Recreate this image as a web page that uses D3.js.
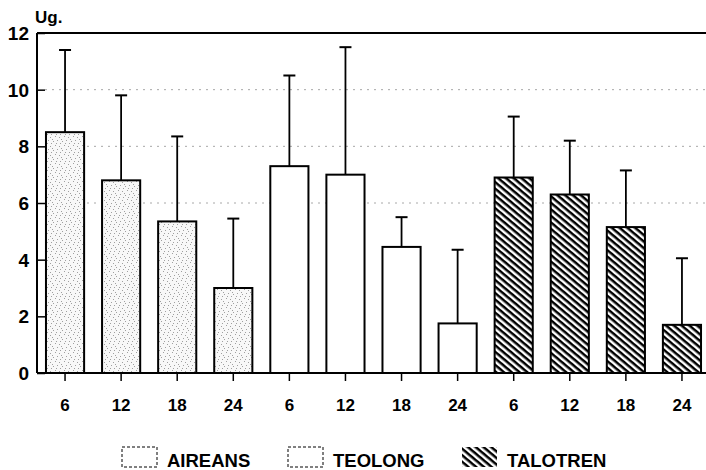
<!DOCTYPE html>
<html>
<head>
<meta charset="utf-8">
<script src="https://cdn.jsdelivr.net/npm/d3@7"></script>
<style>
  html, body { margin: 0; padding: 0; background: #fff; }
  svg { display: block; }
  text { font-family: "Liberation Sans", Arial, Helvetica, sans-serif; font-weight: bold; fill: #000; }
</style>
</head>
<body>
<script>
// ---- data ----
const groups = ["AIREANS", "TEOLONG", "TALOTREN"];
const hours = ["6", "12", "18", "24"];
const aireansMean = [8.5, 6.8, 5.35, 3.0];
const aireansSD   = [2.9, 3.0, 3.0, 2.45];
const teolongMean = [7.3, 7.0, 4.45, 1.75];
const teolongSD   = [3.2, 4.5, 1.05, 2.6];
const talotrenMean = [6.9, 6.3, 5.15, 1.7];
const talotrenSD   = [2.15, 1.9, 2.0, 2.35];
const yTicks = [0, 2, 4, 6, 8, 10, 12];
const gridValues = [6, 8, 10];
const yUnit = "Ug.";

const means = [aireansMean, teolongMean, talotrenMean];
const sds = [aireansSD, teolongSD, talotrenSD];
const rows = [];
groups.forEach((g, gi) => hours.forEach((h, hi) => {
  rows.push({ key: g + "-" + h, group: g, gi, hour: h, mean: means[gi][hi], sd: sds[gi][hi] });
}));

// ---- layout ----
const W = 706, H = 470;
const svg = d3.select("body").append("svg").attr("width", W).attr("height", H);
const defs = svg.append("defs");

// stipple pattern
const st = defs.append("pattern").attr("id", "stipple").attr("patternUnits", "userSpaceOnUse")
  .attr("width", 9).attr("height", 9);
st.append("rect").attr("width", 9).attr("height", 9).attr("fill", "#f8f8f8");
[[1,1],[5,2],[8,6],[3,5],[6,8],[2,8],[7,4]].forEach(([px, py]) =>
  st.append("rect").attr("x", px).attr("y", py).attr("width", 1).attr("height", 1).attr("fill", "#a0a0a0"));

// hatch pattern (lines running top-left to bottom-right)
const ht = defs.append("pattern").attr("id", "hatch").attr("patternUnits", "userSpaceOnUse")
  .attr("width", 5).attr("height", 5).attr("patternTransform", "rotate(40)");
ht.append("rect").attr("width", 5).attr("height", 5).attr("fill", "#fff");
ht.append("rect").attr("x", 0).attr("y", 0).attr("width", 5).attr("height", 2.5).attr("fill", "#000");

const fills = { AIREANS: "url(#stipple)", TEOLONG: "#fff", TALOTREN: "url(#hatch)" };

const x = d3.scaleBand().domain(rows.map(d => d.key)).range([37, 710])
  .paddingInner(0.32).paddingOuter(0.16);
const y = d3.scaleLinear().domain([0, 12]).range([373, 33]);
const xL = 37, xR = W;

// gridlines
svg.append("g").selectAll("line").data(gridValues).join("line")
  .attr("x1", xL + 8).attr("x2", xR).attr("y1", d => y(d)).attr("y2", d => y(d))
  .attr("stroke", "#a8a8a8").attr("stroke-width", 1).attr("stroke-dasharray", "2,5");

// top frame line
svg.append("line").attr("x1", xL).attr("x2", xR).attr("y1", y(12)).attr("y2", y(12))
  .attr("stroke", "#000").attr("stroke-width", 2);

// y axis
const yAxis = svg.append("g").attr("transform", `translate(${xL},0)`)
  .call(d3.axisRight(y).tickValues(yTicks).tickSize(8).tickFormat(""));
yAxis.select(".domain").remove();
yAxis.selectAll(".tick line").attr("stroke", "#000").attr("stroke-width", 1.5);
svg.append("line").attr("x1", xL).attr("x2", xL).attr("y1", y(12)).attr("y2", y(0))
  .attr("stroke", "#000").attr("stroke-width", 2);
svg.append("g").selectAll("text").data(yTicks).join("text")
  .attr("x", 29).attr("y", d => y(d)).attr("dy", "0.36em").attr("text-anchor", "end")
  .style("font-size", "19px").text(d => d);
svg.append("text").attr("x", 35).attr("y", 23).style("font-size", "17px").text(yUnit);

// error bars
const eb = svg.append("g").selectAll("g").data(rows).join("g");
eb.append("line")
  .attr("x1", d => x(d.key) + x.bandwidth() / 2).attr("x2", d => x(d.key) + x.bandwidth() / 2)
  .attr("y1", d => y(d.mean)).attr("y2", d => y(d.mean + d.sd))
  .attr("stroke", "#000").attr("stroke-width", 1.8);
eb.append("line")
  .attr("x1", d => x(d.key) + x.bandwidth() / 2 - 6).attr("x2", d => x(d.key) + x.bandwidth() / 2 + 6)
  .attr("y1", d => y(d.mean + d.sd)).attr("y2", d => y(d.mean + d.sd))
  .attr("stroke", "#000").attr("stroke-width", 2);

// bars
svg.append("g").selectAll("rect").data(rows).join("rect")
  .attr("x", d => x(d.key)).attr("width", x.bandwidth())
  .attr("y", d => y(d.mean)).attr("height", d => y(0) - y(d.mean))
  .attr("fill", d => fills[d.group]).attr("stroke", "#000").attr("stroke-width", 2);

// x axis
const xAxis = svg.append("g").attr("transform", `translate(0,${y(0)})`)
  .call(d3.axisBottom(x).tickSize(8).tickFormat(""));
xAxis.select(".domain").remove();
xAxis.selectAll(".tick line").attr("stroke", "#000").attr("stroke-width", 1.5);
svg.append("line").attr("x1", xL).attr("x2", xR).attr("y1", y(0)).attr("y2", y(0))
  .attr("stroke", "#000").attr("stroke-width", 2);
svg.append("g").selectAll("text").data(rows).join("text")
  .attr("x", d => x(d.key) + x.bandwidth() / 2).attr("y", 411).attr("text-anchor", "middle")
  .style("font-size", "17px").text(d => d.hour);

// legend
const legX = [122, 288, 462];
const leg = svg.append("g").selectAll("g").data(groups).join("g")
  .attr("transform", (d, i) => `translate(${legX[i]},447)`);
leg.append("rect").attr("width", 35).attr("height", 20)
  .attr("fill", d => d === "TALOTREN" ? "url(#hatch)" : "#fff")
  .attr("stroke", d => d === "TALOTREN" ? "none" : "#000")
  .attr("stroke-width", 1).attr("stroke-dasharray", d => d === "TALOTREN" ? null : "3,2");
leg.append("text").attr("x", 45).attr("y", 20).style("font-size", "18.5px").text(d => d);
</script>
</body>
</html>
